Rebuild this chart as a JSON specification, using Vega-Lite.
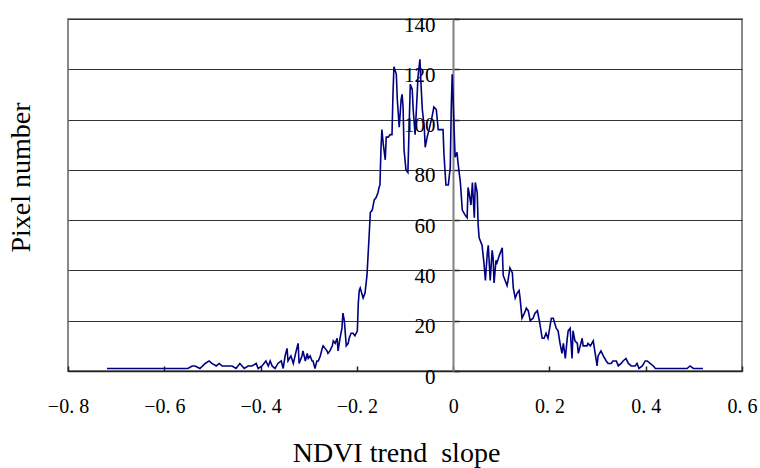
{
  "$schema": "https://vega.github.io/schema/vega-lite/v6.json",
  "autosize": "none",
  "width": 674,
  "height": 352,
  "padding": {"left": 68, "top": 19, "right": 18, "bottom": 97},
  "background": "white",
  "config": {
    "view": {"stroke": "#888888", "strokeWidth": 2},
    "font": "Liberation Serif"
  },
  "data": {
    "values": [
      {"slope": -0.719, "count": 1}, {"slope": -0.65, "count": 1}, {"slope": -0.588, "count": 1}, {"slope": -0.551, "count": 1},
      {"slope": -0.542, "count": 2}, {"slope": -0.536, "count": 2}, {"slope": -0.526, "count": 1}, {"slope": -0.515, "count": 3},
      {"slope": -0.507, "count": 4}, {"slope": -0.501, "count": 3}, {"slope": -0.492, "count": 2}, {"slope": -0.486, "count": 3},
      {"slope": -0.48, "count": 2}, {"slope": -0.472, "count": 2}, {"slope": -0.465, "count": 2}, {"slope": -0.459, "count": 2},
      {"slope": -0.451, "count": 1}, {"slope": -0.443, "count": 3}, {"slope": -0.434, "count": 1}, {"slope": -0.426, "count": 2},
      {"slope": -0.418, "count": 2}, {"slope": -0.409, "count": 3}, {"slope": -0.405, "count": 1}, {"slope": -0.397, "count": 2},
      {"slope": -0.389, "count": 4}, {"slope": -0.384, "count": 2}, {"slope": -0.38, "count": 4}, {"slope": -0.376, "count": 2},
      {"slope": -0.37, "count": 1}, {"slope": -0.364, "count": 3}, {"slope": -0.357, "count": 4}, {"slope": -0.353, "count": 1},
      {"slope": -0.349, "count": 6}, {"slope": -0.345, "count": 9}, {"slope": -0.343, "count": 4}, {"slope": -0.337, "count": 6},
      {"slope": -0.332, "count": 3}, {"slope": -0.326, "count": 8}, {"slope": -0.322, "count": 11}, {"slope": -0.32, "count": 3},
      {"slope": -0.314, "count": 6}, {"slope": -0.312, "count": 8}, {"slope": -0.307, "count": 4}, {"slope": -0.303, "count": 7},
      {"slope": -0.301, "count": 5}, {"slope": -0.297, "count": 6}, {"slope": -0.293, "count": 4}, {"slope": -0.291, "count": 4},
      {"slope": -0.287, "count": 1}, {"slope": -0.283, "count": 4}, {"slope": -0.28, "count": 4}, {"slope": -0.276, "count": 6},
      {"slope": -0.272, "count": 9}, {"slope": -0.27, "count": 10}, {"slope": -0.266, "count": 9}, {"slope": -0.262, "count": 8},
      {"slope": -0.26, "count": 7}, {"slope": -0.256, "count": 8}, {"slope": -0.251, "count": 10}, {"slope": -0.249, "count": 12},
      {"slope": -0.245, "count": 11}, {"slope": -0.241, "count": 13}, {"slope": -0.239, "count": 8}, {"slope": -0.235, "count": 13},
      {"slope": -0.231, "count": 17}, {"slope": -0.229, "count": 23}, {"slope": -0.226, "count": 20}, {"slope": -0.222, "count": 10},
      {"slope": -0.218, "count": 11}, {"slope": -0.216, "count": 13}, {"slope": -0.212, "count": 15}, {"slope": -0.208, "count": 15},
      {"slope": -0.204, "count": 14}, {"slope": -0.199, "count": 16}, {"slope": -0.197, "count": 27}, {"slope": -0.195, "count": 32},
      {"slope": -0.193, "count": 33}, {"slope": -0.187, "count": 29}, {"slope": -0.183, "count": 31}, {"slope": -0.179, "count": 38},
      {"slope": -0.177, "count": 45}, {"slope": -0.175, "count": 52}, {"slope": -0.172, "count": 63}, {"slope": -0.168, "count": 64},
      {"slope": -0.166, "count": 66}, {"slope": -0.164, "count": 68}, {"slope": -0.16, "count": 69}, {"slope": -0.156, "count": 71},
      {"slope": -0.154, "count": 73}, {"slope": -0.152, "count": 74}, {"slope": -0.15, "count": 88}, {"slope": -0.148, "count": 96},
      {"slope": -0.145, "count": 90}, {"slope": -0.141, "count": 84}, {"slope": -0.139, "count": 93}, {"slope": -0.135, "count": 93},
      {"slope": -0.131, "count": 94}, {"slope": -0.127, "count": 94}, {"slope": -0.125, "count": 110}, {"slope": -0.123, "count": 121},
      {"slope": -0.118, "count": 118}, {"slope": -0.116, "count": 108}, {"slope": -0.112, "count": 97}, {"slope": -0.108, "count": 108},
      {"slope": -0.106, "count": 110}, {"slope": -0.104, "count": 105}, {"slope": -0.102, "count": 88}, {"slope": -0.098, "count": 80},
      {"slope": -0.094, "count": 79}, {"slope": -0.089, "count": 114}, {"slope": -0.085, "count": 112}, {"slope": -0.083, "count": 104},
      {"slope": -0.079, "count": 94}, {"slope": -0.075, "count": 109}, {"slope": -0.073, "count": 117}, {"slope": -0.069, "count": 124},
      {"slope": -0.067, "count": 115}, {"slope": -0.064, "count": 104}, {"slope": -0.06, "count": 97}, {"slope": -0.058, "count": 89},
      {"slope": -0.054, "count": 93}, {"slope": -0.05, "count": 96}, {"slope": -0.044, "count": 101}, {"slope": -0.04, "count": 105},
      {"slope": -0.035, "count": 104}, {"slope": -0.031, "count": 96}, {"slope": -0.027, "count": 96}, {"slope": -0.021, "count": 96},
      {"slope": -0.019, "count": 86}, {"slope": -0.015, "count": 74}, {"slope": -0.01, "count": 74}, {"slope": -0.006, "count": 81},
      {"slope": -0.004, "count": 104}, {"slope": -0.002, "count": 118}, {"slope": 0.0, "count": 108}, {"slope": 0.004, "count": 85},
      {"slope": 0.008, "count": 87}, {"slope": 0.01, "count": 83}, {"slope": 0.015, "count": 75}, {"slope": 0.019, "count": 64},
      {"slope": 0.025, "count": 62}, {"slope": 0.029, "count": 61}, {"slope": 0.031, "count": 73}, {"slope": 0.033, "count": 71},
      {"slope": 0.037, "count": 66}, {"slope": 0.04, "count": 75}, {"slope": 0.044, "count": 61}, {"slope": 0.046, "count": 75},
      {"slope": 0.05, "count": 71}, {"slope": 0.052, "count": 58}, {"slope": 0.054, "count": 53}, {"slope": 0.06, "count": 50},
      {"slope": 0.064, "count": 43}, {"slope": 0.067, "count": 36}, {"slope": 0.071, "count": 47}, {"slope": 0.073, "count": 50},
      {"slope": 0.077, "count": 36}, {"slope": 0.081, "count": 48}, {"slope": 0.083, "count": 45}, {"slope": 0.085, "count": 35},
      {"slope": 0.089, "count": 44}, {"slope": 0.091, "count": 43}, {"slope": 0.096, "count": 46}, {"slope": 0.102, "count": 49},
      {"slope": 0.104, "count": 38}, {"slope": 0.108, "count": 36}, {"slope": 0.112, "count": 34}, {"slope": 0.114, "count": 36},
      {"slope": 0.118, "count": 41}, {"slope": 0.123, "count": 39}, {"slope": 0.125, "count": 33}, {"slope": 0.129, "count": 29},
      {"slope": 0.133, "count": 31}, {"slope": 0.137, "count": 32}, {"slope": 0.139, "count": 29}, {"slope": 0.143, "count": 21},
      {"slope": 0.148, "count": 23}, {"slope": 0.152, "count": 25}, {"slope": 0.156, "count": 24}, {"slope": 0.16, "count": 20},
      {"slope": 0.166, "count": 21}, {"slope": 0.17, "count": 23}, {"slope": 0.175, "count": 24}, {"slope": 0.179, "count": 20},
      {"slope": 0.185, "count": 13}, {"slope": 0.189, "count": 13}, {"slope": 0.193, "count": 15}, {"slope": 0.197, "count": 13},
      {"slope": 0.204, "count": 21}, {"slope": 0.208, "count": 21}, {"slope": 0.214, "count": 17}, {"slope": 0.218, "count": 16},
      {"slope": 0.222, "count": 11}, {"slope": 0.226, "count": 7}, {"slope": 0.229, "count": 11}, {"slope": 0.233, "count": 5},
      {"slope": 0.237, "count": 13}, {"slope": 0.239, "count": 16}, {"slope": 0.243, "count": 17}, {"slope": 0.247, "count": 5},
      {"slope": 0.249, "count": 16}, {"slope": 0.253, "count": 12}, {"slope": 0.258, "count": 11}, {"slope": 0.26, "count": 7},
      {"slope": 0.264, "count": 10}, {"slope": 0.268, "count": 13}, {"slope": 0.27, "count": 10}, {"slope": 0.274, "count": 10},
      {"slope": 0.278, "count": 10}, {"slope": 0.28, "count": 11}, {"slope": 0.285, "count": 10}, {"slope": 0.291, "count": 12},
      {"slope": 0.295, "count": 7}, {"slope": 0.299, "count": 2}, {"slope": 0.301, "count": 6}, {"slope": 0.307, "count": 8},
      {"slope": 0.312, "count": 6}, {"slope": 0.318, "count": 4}, {"slope": 0.322, "count": 3}, {"slope": 0.328, "count": 3},
      {"slope": 0.332, "count": 4}, {"slope": 0.339, "count": 4}, {"slope": 0.343, "count": 2}, {"slope": 0.349, "count": 3},
      {"slope": 0.353, "count": 4}, {"slope": 0.359, "count": 5}, {"slope": 0.364, "count": 3}, {"slope": 0.37, "count": 2},
      {"slope": 0.374, "count": 2}, {"slope": 0.378, "count": 2}, {"slope": 0.382, "count": 3}, {"slope": 0.386, "count": 1},
      {"slope": 0.393, "count": 2}, {"slope": 0.399, "count": 4}, {"slope": 0.403, "count": 4}, {"slope": 0.409, "count": 3},
      {"slope": 0.416, "count": 2}, {"slope": 0.42, "count": 1}, {"slope": 0.426, "count": 1}, {"slope": 0.472, "count": 1},
      {"slope": 0.486, "count": 1}, {"slope": 0.492, "count": 2}, {"slope": 0.499, "count": 1}, {"slope": 0.519, "count": 1}
    ]
  },
  "mark": {"type": "line", "color": "#000080", "strokeWidth": 1.6, "interpolate": "linear"},
  "encoding": {
    "x": {
      "field": "slope",
      "type": "quantitative",
      "scale": {"domain": [-0.8, 0.6], "nice": false, "zero": false},
      "axis": {
        "values": [-0.8, -0.6, -0.4, -0.2, 0, 0.2, 0.4, 0.6],
        "labelExpr": "datum.value == 0 ? '0' : replace(format(datum.value, '.1f'), '.', '. ')",
        "labelFont": "Liberation Serif",
        "labelFontSize": 20,
        "labelColor": "#000000",
        "labelFlush": false,
        "labelOverlap": false,
        "labelPadding": 40,
        "labelBaseline": "middle",
        "tickSize": -5,
        "tickColor": "#222222",
        "tickWidth": 1.5,
        "domainColor": "#222222",
        "domainWidth": 1.5,
        "grid": false,
        "title": "NDVI trend\u00a0 slope",
        "titleFont": "Liberation Serif",
        "titleFontSize": 28,
        "titleFontWeight": "normal",
        "titleColor": "#000000",
        "titleX": 328,
        "titleY": 90,
        "titleBaseline": "alphabetic"
      }
    },
    "y": {
      "field": "count",
      "type": "quantitative",
      "scale": {"domain": [0, 140], "nice": false},
      "axis": {
        "values": [0, 20, 40, 60, 80, 100, 120, 140],
        "offset": -385,
        "labelFont": "Liberation Serif",
        "labelFontSize": 21,
        "labelColor": "#000000",
        "labelPadding": 24,
        "labelOffset": 6,
        "labelFlush": false,
        "labelOverlap": false,
        "tickSize": -6,
        "tickColor": "#222222",
        "tickWidth": 1.5,
        "domainColor": "#808080",
        "domainWidth": 2,
        "grid": true,
        "gridColor": "#333333",
        "gridWidth": 1,
        "gridOpacity": 1,
        "title": "Pixel number",
        "titleFont": "Liberation Serif",
        "titleFontSize": 28,
        "titleFontWeight": "normal",
        "titleColor": "#000000",
        "titleX": -424,
        "titleY": 158,
        "titleAngle": -90,
        "titleBaseline": "alphabetic",
        "titleAlign": "center"
      }
    }
  }
}
